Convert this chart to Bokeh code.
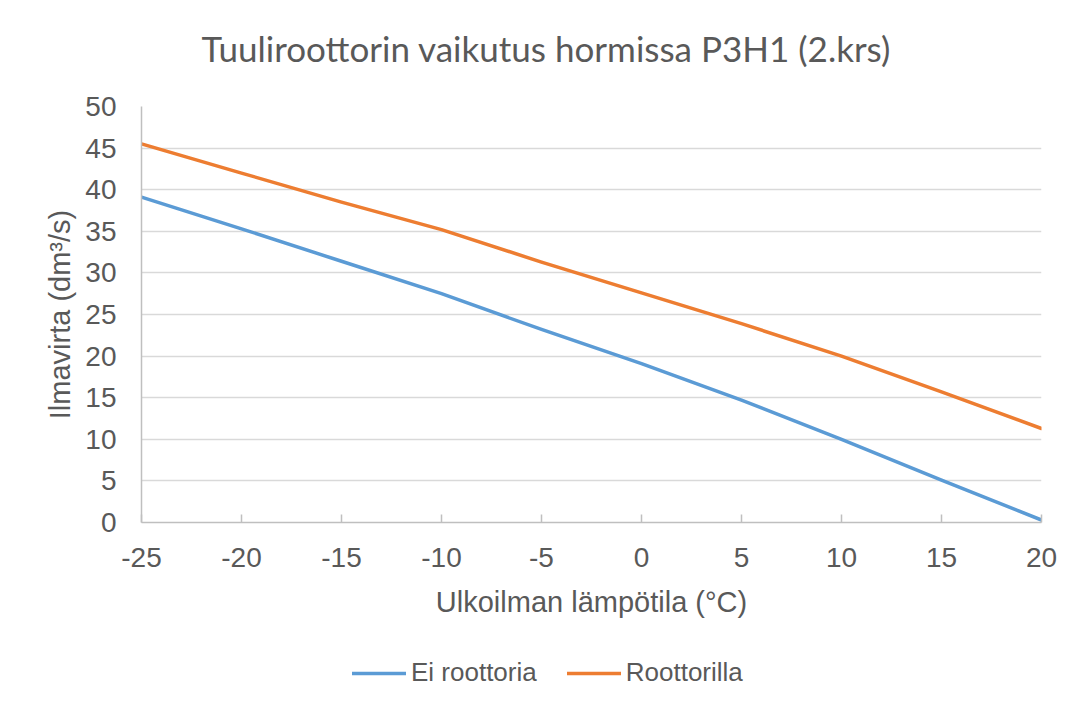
from bokeh.plotting import figure
from bokeh.models import Range1d, FixedTicker, Legend, LegendItem, Title
from bokeh.core.properties import value
from bokeh.layouts import column
from bokeh.embed import file_html
from bokeh.resources import INLINE

# Data
temps = [-25, -20, -15, -10, -5, 0, 5, 10, 15, 20]
ei_roottoria = [39.1, 35.3, 31.4, 27.5, 23.2, 19.1, 14.7, 10.0, 5.1, 0.3]
roottorilla = [45.5, 42.0, 38.5, 35.2, 31.3, 27.6, 23.9, 20.0, 15.7, 11.3]
x_ticks = [-25, -20, -15, -10, -5, 0, 5, 10, 15, 20]
y_ticks = [0, 5, 10, 15, 20, 25, 30, 35, 40, 45, 50]
series_names = ["Ei roottoria", "Roottorilla"]
series_colors = ["#5b9bd5", "#ed7d31"]
title_text = "Tuuliroottorin vaikutus hormissa P3H1  (2.krs)"
x_label = "Ulkoilman lämpötila (°C)"
y_label = "Ilmavirta (dm³/s)"

TEXT = "#595959"
FONT = "Liberation Sans"

p = figure(
    frame_width=900, frame_height=416,
    min_border_left=141, min_border_top=106, min_border_right=31, min_border_bottom=110,
    x_range=Range1d(-25, 20), y_range=Range1d(0, 50),
    output_backend="svg", toolbar_location=None,
)
# spacer between the title and the frame
p.add_layout(Title(text=" ", text_font_size="1px", standoff=30), "above")
p.title = Title(text=title_text, align="left", offset=60, standoff=10,
                text_font="Lato", text_font_size="35px", text_font_style="normal",
                text_color=TEXT)

p.outline_line_color = None
p.background_fill_color = "white"
p.border_fill_color = "white"

# axes
p.xaxis.ticker = FixedTicker(ticks=x_ticks)
p.yaxis.ticker = FixedTicker(ticks=y_ticks)
p.xaxis.major_label_overrides = {t: str(t) for t in x_ticks}
for ax in (p.xaxis[0], p.yaxis[0]):
    ax.axis_line_color = "#bfbfbf"
    ax.axis_line_width = 1.5
    ax.major_label_text_font = FONT
    ax.major_label_text_font_size = "28px"
    ax.major_label_text_color = TEXT
    ax.axis_label_text_font = FONT
    ax.axis_label_text_font_size = "29px"
    ax.axis_label_text_font_style = "normal"
    ax.axis_label_text_color = TEXT
    ax.minor_tick_line_color = None

p.xaxis.axis_label = x_label
p.yaxis.axis_label = y_label
p.xaxis.major_tick_in = 8
p.xaxis.major_tick_out = 0
p.xaxis.major_tick_line_color = "#bfbfbf"
p.xaxis.major_tick_line_width = 1.5
p.xaxis.major_label_standoff = 25
p.xaxis.axis_label_standoff = 16
p.yaxis.major_tick_line_color = None
p.yaxis.major_label_standoff = 19
p.yaxis.axis_label_standoff = 6

p.xgrid.grid_line_color = None
p.ygrid.grid_line_color = "#d9d9d9"
p.ygrid.grid_line_width = 1.5

p.line(temps, ei_roottoria, line_color=series_colors[0], line_width=3.5, line_join="round", line_cap="round")
p.line(temps, roottorilla, line_color=series_colors[1], line_width=3.5, line_join="round", line_cap="round")

# legend strip below the chart (its own series copies sit outside the strip's view)
leg = figure(
    frame_width=1072, frame_height=70,
    min_border_left=0, min_border_right=0, min_border_top=0, min_border_bottom=0,
    x_range=Range1d(-25, 20), y_range=Range1d(100, 101),
    x_axis_type=None, y_axis_type=None,
    output_backend="svg", toolbar_location=None,
)
leg.outline_line_color = None
leg.xgrid.grid_line_color = None
leg.ygrid.grid_line_color = None
k1 = leg.line(temps, ei_roottoria, line_color=series_colors[0], line_width=3.5, line_cap="round")
k2 = leg.line(temps, roottorilla, line_color=series_colors[1], line_width=3.5, line_cap="round")

legend = Legend(
    items=[LegendItem(label=value(series_names[0]), renderers=[k1]),
           LegendItem(label=value(series_names[1]), renderers=[k2])],
    orientation="horizontal", location=(352, 14),
    label_text_font=FONT, label_text_font_size="26px", label_text_color=TEXT,
    glyph_width=54, glyph_height=20, label_standoff=5, spacing=30,
    border_line_color=None, background_fill_alpha=0, margin=0, padding=8,
)
leg.add_layout(legend, "center")

open("out.html", "w").write(file_html(column(p, leg, spacing=0), INLINE))
